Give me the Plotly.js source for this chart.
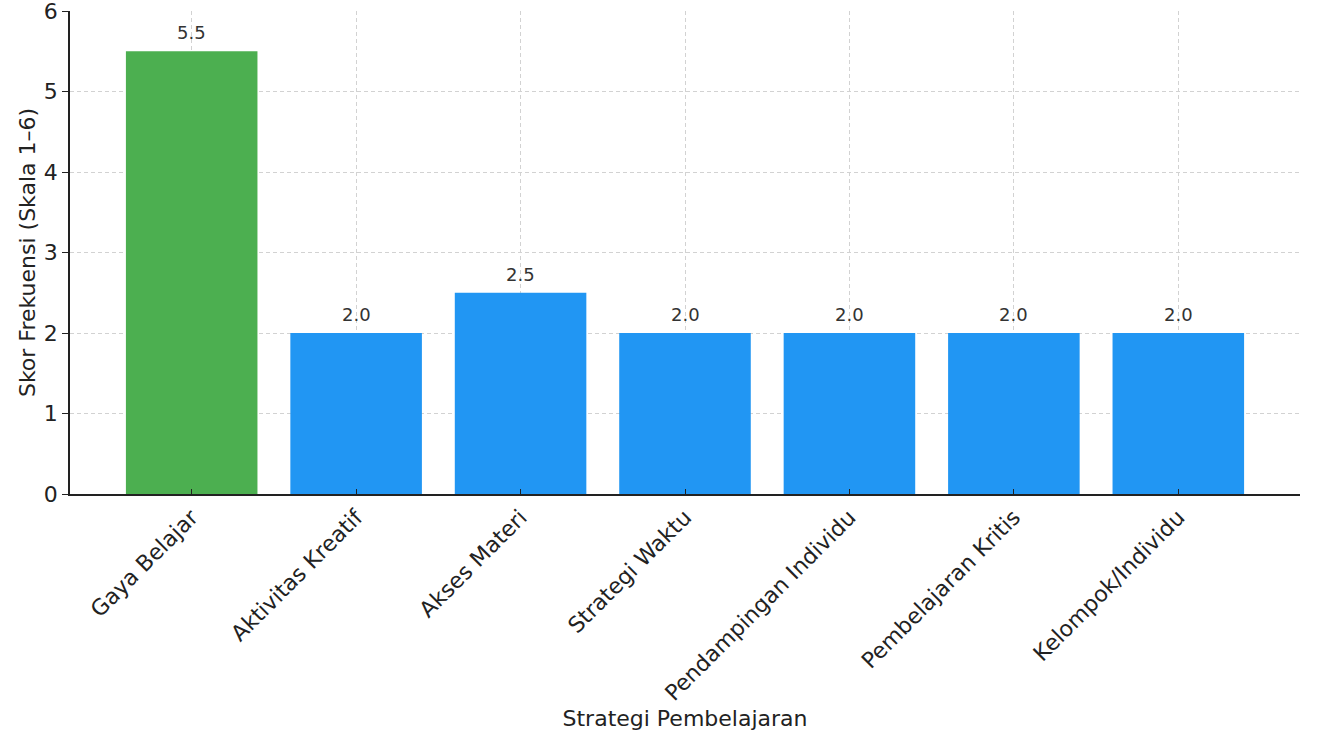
<!DOCTYPE html>
<html>
<head>
<meta charset="utf-8">
<script src="https://cdn.plot.ly/plotly-3.0.1.min.js"></script>
<style>html,body{margin:0;padding:0;background:#fff;}#chart{width:1320px;height:749px;}</style>
</head>
<body>
<div id="chart"></div>
<script>
const categories = ["Gaya Belajar", "Aktivitas Kreatif", "Akses Materi", "Strategi Waktu", "Pendampingan Individu", "Pembelajaran Kritis", "Kelompok/Individu"];
const scores = [5.5, 2.0, 2.5, 2.0, 2.0, 2.0, 2.0];
const barColors = ["#4CAF50", "#2196F3", "#2196F3", "#2196F3", "#2196F3", "#2196F3", "#2196F3"];
const yTicks = [0, 1, 2, 3, 4, 5, 6];

const font = "DejaVu Sans, sans-serif";
const xIdx = categories.map((c, i) => i);

const trace = {
  type: "bar",
  x: xIdx,
  y: scores,
  width: 0.8,
  marker: {color: barColors, line: {width: 0}},
  hoverinfo: "x+y"
};

const annotations = scores.map((v, i) => ({
  x: xIdx[i], y: v, xref: "x", yref: "y",
  text: v.toFixed(1), showarrow: false,
  yanchor: "bottom", yshift: 6,
  font: {family: font, size: 18, color: "#333333"}
}));

const layout = {
  width: 1320, height: 749,
  margin: {l: 70, r: 20, t: 11, b: 255},
  paper_bgcolor: "#ffffff", plot_bgcolor: "#ffffff",
  font: {family: font, color: "#222222"},
  showlegend: false,
  bargap: 0.2,
  xaxis: {
    range: [-0.74, 6.74],
    tickmode: "array", tickvals: xIdx, ticktext: categories,
    tickangle: -45,
    tickfont: {family: font, size: 22, color: "#222222"},
    ticks: "inside", ticklen: 5, tickcolor: "#222222", tickwidth: 1.2,
    showline: true, linecolor: "#222222", linewidth: 1.5,
    showgrid: true, gridcolor: "#d2d2d2", griddash: "4px,3px", gridwidth: 1,
    zeroline: false,
    ticklabeloverflow: "allow",
    title: {text: "Strategi Pembelajaran", font: {family: font, size: 22, color: "#222222"}, standoff: 6}
  },
  yaxis: {
    range: [0, 6],
    tickmode: "array", tickvals: yTicks,
    tickfont: {family: font, size: 22, color: "#222222"},
    ticks: "outside", ticklen: 6, tickcolor: "#222222", tickwidth: 1.2,
    showline: true, linecolor: "#222222", linewidth: 1.5,
    showgrid: true, gridcolor: "#d2d2d2", griddash: "4px,3px", gridwidth: 1,
    zeroline: false,
    ticklabeloverflow: "allow",
    title: {text: "Skor Frekuensi (Skala 1–6)", font: {family: font, size: 22, color: "#222222"}, standoff: 2}
  },
  annotations: annotations
};

Plotly.newPlot("chart", [trace], layout, {displayModeBar: false, responsive: false});
</script>
</body>
</html>
